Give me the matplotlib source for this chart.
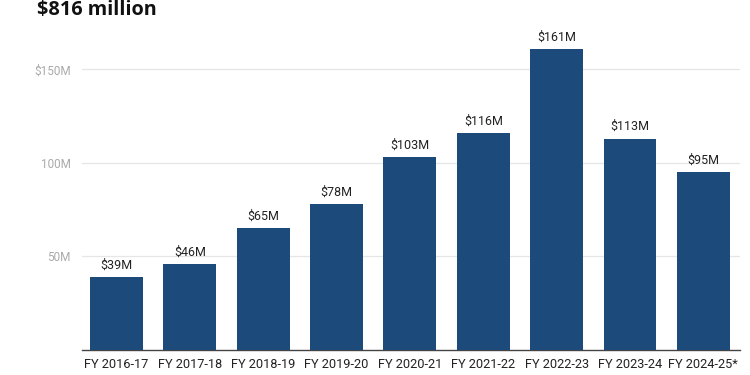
import matplotlib
matplotlib.use("Agg")
import matplotlib.pyplot as plt

categories = ["FY 2016-17", "FY 2017-18", "FY 2018-19", "FY 2019-20", "FY 2020-21",
              "FY 2021-22", "FY 2022-23", "FY 2023-24", "FY 2024-25*"]
values = [39, 46, 65, 78, 103, 116, 161, 113, 95]
value_labels = ["$39M", "$46M", "$65M", "$78M", "$103M", "$116M", "$161M", "$113M", "$95M"]
y_ticks = [50, 100, 150]
y_tick_labels = ["50M", "100M", "$150M"]
title = "$816 million"

plt.rcParams['font.family'] = ['Roboto', 'DejaVu Sans']

fig = plt.figure(figsize=(7.5, 3.75), dpi=100)
ax = fig.add_axes([82/750, 1-350/375, (740-82)/750, (350-30)/375])

x = list(range(len(categories)))
bars = ax.bar(x, values, width=0.72, color="#1c4a7b", zorder=3)
for xi, v, lab in zip(x, values, value_labels):
    ax.annotate(lab, (xi, v), xytext=(0, 4), textcoords="offset points",
                ha="center", va="bottom", fontsize=9, color="#222222")

ax.set_xlim(-0.47, 8.5)
ax.set_ylim(0, 171.1)
ax.set_yticks(y_ticks)
ax.set_yticklabels(y_tick_labels, color="#aaaaaa", fontsize=8.5)
ax.set_xticks(x)
ax.set_xticklabels(categories, fontsize=9.2, color="#222222")
ax.tick_params(axis="both", length=0)
ax.tick_params(axis="y", pad=8)
ax.tick_params(axis="x", pad=6)
ax.grid(axis="y", color="#e6e6e6", linewidth=0.9, zorder=0)
for s in ["top", "right", "left"]:
    ax.spines[s].set_visible(False)
ax.spines["bottom"].set_color("#444444")
ax.spines["bottom"].set_linewidth(1.0)

fig.text(37/750, 1-15/375, title, fontsize=14.3, fontweight="bold",
         family=["Open Sans", "DejaVu Sans"], color="#111111", va="baseline", ha="left")

fig.savefig("out.png", dpi=100, facecolor="white")
